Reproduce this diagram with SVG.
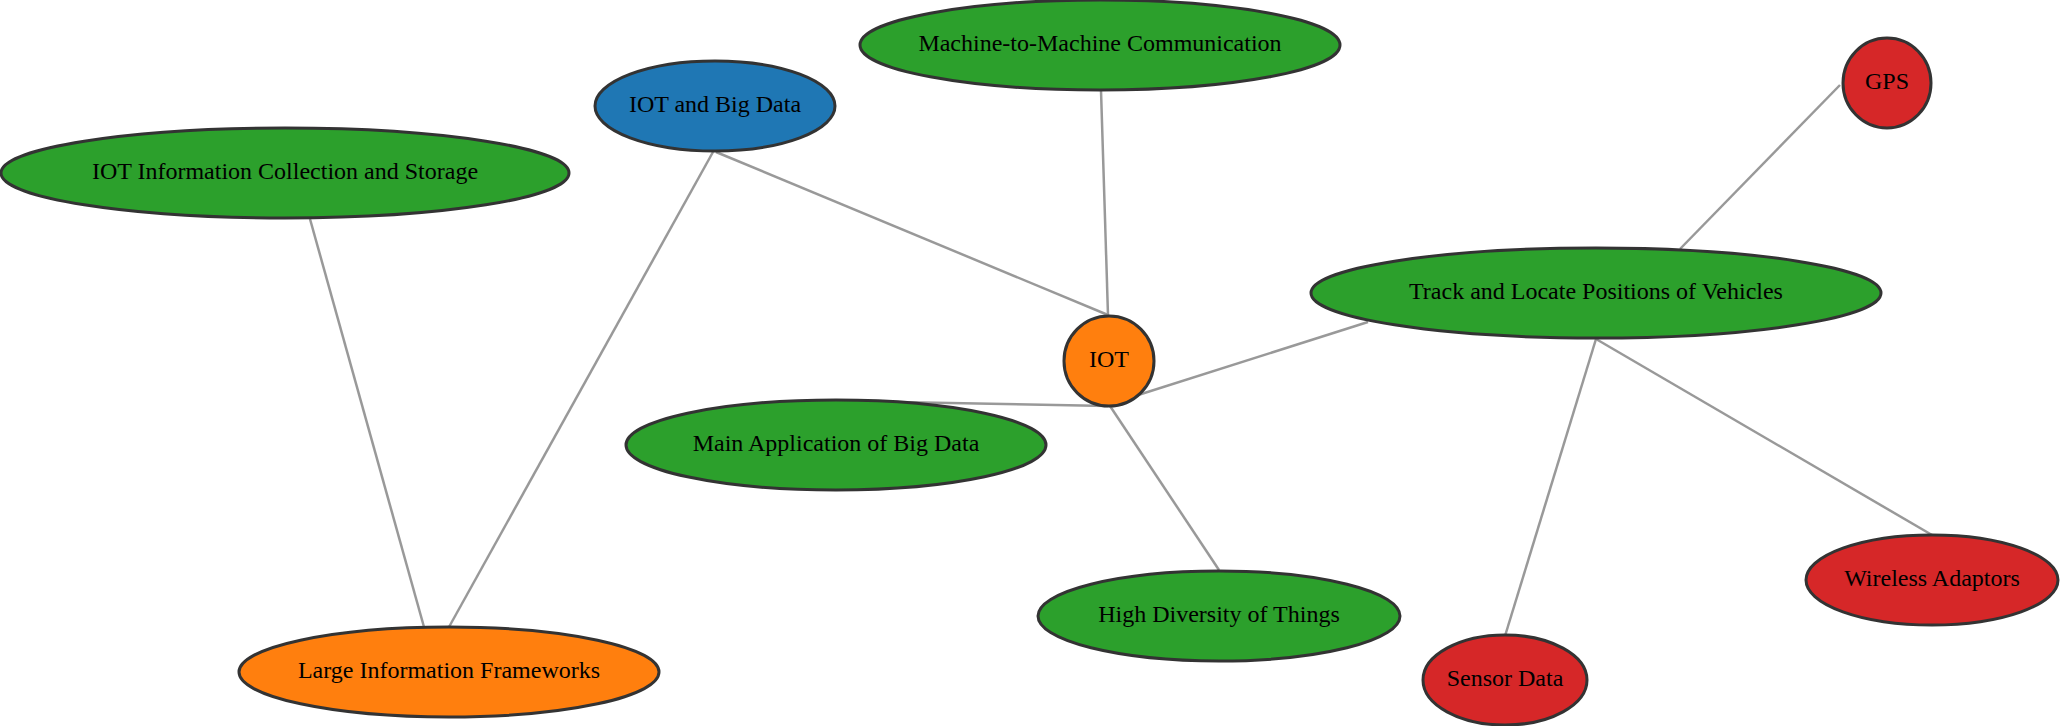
<svg xmlns="http://www.w3.org/2000/svg" width="2060" height="726" viewBox="0 0 2060 726">
<style>
.e{stroke:#999;stroke-width:2.5;fill:none}
.n{stroke:#333;stroke-width:3}
.g{fill:#2ca02c}.b{fill:#1f77b4}.o{fill:#ff7f0e}.r{fill:#d62728}
text{font-family:"Liberation Serif","Times New Roman",serif;font-size:24px;fill:#000;text-anchor:middle;dominant-baseline:central}
</style>
<rect width="2060" height="726" fill="#fff"/>
<g id="connectors">
<line class="e" x1="310" y1="219" x2="424" y2="627"/>
<line class="e" x1="713" y1="152" x2="449" y2="627"/>
<line class="e" x1="716" y1="152" x2="1108" y2="315"/>
<line class="e" x1="1101" y1="90" x2="1108" y2="315"/>
<line class="e" x1="841" y1="401" x2="1108" y2="406"/>
<line class="e" x1="1110" y1="406" x2="1219" y2="570"/>
<line class="e" x1="1368" y1="322" x2="1135" y2="396"/>
<line class="e" x1="1840" y1="85" x2="1680" y2="249"/>
<line class="e" x1="1596" y1="339" x2="1505" y2="636"/>
<line class="e" x1="1596" y1="339" x2="1932" y2="535"/>
</g>
<g id="n-m2m"><ellipse class="n g" cx="1100" cy="45" rx="240" ry="45"/><text x="1100" y="43">Machine-to-Machine Communication</text></g>
<g id="n-iotbig"><ellipse class="n b" cx="715" cy="106" rx="120" ry="45"/><text x="715" y="104">IOT and Big Data</text></g>
<g id="n-iotinfo"><ellipse class="n g" cx="285" cy="173" rx="284" ry="45"/><text x="285" y="171">IOT Information Collection and Storage</text></g>
<g id="n-gps"><ellipse class="n r" cx="1887" cy="83" rx="44" ry="45"/><text x="1887" y="81">GPS</text></g>
<g id="n-track"><ellipse class="n g" cx="1596" cy="293" rx="285" ry="45"/><text x="1596" y="291">Track and Locate Positions of Vehicles</text></g>
<g id="n-iot"><ellipse class="n o" cx="1109" cy="361" rx="45" ry="45"/><text x="1109" y="359">IOT</text></g>
<g id="n-mainapp"><ellipse class="n g" cx="836" cy="445" rx="210" ry="45"/><text x="836" y="443">Main Application of Big Data</text></g>
<g id="n-highdiv"><ellipse class="n g" cx="1219" cy="616" rx="181" ry="45"/><text x="1219" y="614">High Diversity of Things</text></g>
<g id="n-wireless"><ellipse class="n r" cx="1932" cy="580" rx="126" ry="45"/><text x="1932" y="578">Wireless Adaptors</text></g>
<g id="n-sensor"><ellipse class="n r" cx="1505" cy="680" rx="82" ry="45"/><text x="1505" y="678">Sensor Data</text></g>
<g id="n-lif"><ellipse class="n o" cx="449" cy="672" rx="210" ry="45"/><text x="449" y="670">Large Information Frameworks</text></g>
</svg>
